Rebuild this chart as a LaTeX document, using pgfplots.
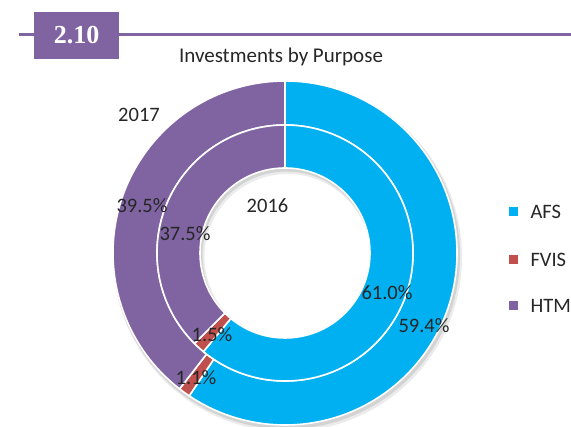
\documentclass[border=0pt]{standalone}
\usepackage{pgfplots}
\pgfplotsset{compat=1.18}
\usepackage{pgfplotstable}
\usepackage{fontspec}
\setmainfont{Carlito}
\newfontfamily\headfont{Liberation Serif}
\definecolor{cAFS}{HTML}{00B0F0}
\definecolor{cFVIS}{HTML}{C0504D}
\definecolor{cHTM}{HTML}{8064A2}
\definecolor{txt}{HTML}{262626}

\pgfplotstableread{
name val
AFS 59.4
FVIS 1.1
HTM 39.5
}\outerT
\pgfplotstableread{
name val
AFS 61.0
FVIS 1.5
HTM 37.5
}\innerT

\def\cx{285}
\def\cy{174}
\def\Rout{172}
\def\Rsep{128}
\def\Rhole{85}

\newcommand\sector[5]{%
  \fill[#1, draw=white, line width=1.6pt]
    (axis cs:{\cx+#5*cos(#2)},{\cy+#5*sin(#2)})
    arc[start angle=#2, end angle=#3, radius=#5pt]
    -- (axis cs:{\cx+#4*cos(#3)},{\cy+#4*sin(#3)})
    arc[start angle=#3, end angle=#2, radius=#4pt] -- cycle;}

\pgfplotstablegetelem{0}{val}\of\outerT \let\oA\pgfplotsretval%
\pgfplotstablegetelem{1}{val}\of\outerT \let\oF\pgfplotsretval%
\pgfplotstablegetelem{2}{val}\of\outerT \let\oH\pgfplotsretval%
\pgfplotstablegetelem{0}{val}\of\innerT \let\iA\pgfplotsretval%
\pgfplotstablegetelem{1}{val}\of\innerT \let\iF\pgfplotsretval%
\pgfplotstablegetelem{2}{val}\of\innerT \let\iH\pgfplotsretval%
\pgfmathsetmacro\oa{90-3.6*\oA}%
\pgfmathsetmacro\ob{\oa-3.6*\oF}%
\pgfmathsetmacro\oc{\ob-3.6*\oH}%
\pgfmathsetmacro\ia{90-3.6*\iA}%
\pgfmathsetmacro\ib{\ia-3.6*\iF}%
\pgfmathsetmacro\ic{\ib-3.6*\iH}%

\begin{document}
\begin{tikzpicture}
\begin{axis}[name=a, x=1pt, y=1pt, xmin=0, xmax=571, ymin=0, ymax=427,
  hide axis, scale only axis, clip=false]
  \coordinate (SW) at (axis cs:0,0);
  \coordinate (NE) at (axis cs:571,427);
  % header
  \draw[cHTM, line width=2.6pt] (axis cs:19,392.5) -- (axis cs:571,392.5);
  \fill[cHTM] (axis cs:34,368) rectangle (axis cs:119,415);
  \node[white, font=\headfont\bfseries\fontsize{26}{30}\selectfont] at (axis cs:76.5,391.5) {2.10};
  \node[txt, font=\fontsize{21}{25}\selectfont] at (axis cs:281,370) {Investments by Purpose};
  % shadow
  \fill[black, opacity=0.10, even odd rule] (axis cs:\cx+1.5,\cy-2.5) circle[radius=173.5pt] (axis cs:\cx+1.5,\cy-2.5) circle[radius=84pt];
  \fill[black, opacity=0.08, even odd rule] (axis cs:\cx+2.5,\cy-4) circle[radius=174.5pt] (axis cs:\cx+2.5,\cy-4) circle[radius=83pt];
  % outer ring 2017
  \sector{cAFS}{90}{\oa}{\Rsep}{\Rout}
  \sector{cFVIS}{\oa}{\ob}{\Rsep}{\Rout}
  \sector{cHTM}{\ob}{\oc}{\Rsep}{\Rout}
  % inner ring 2016
  \sector{cAFS}{90}{\ia}{\Rhole}{\Rsep}
  \sector{cFVIS}{\ia}{\ib}{\Rhole}{\Rsep}
  \sector{cHTM}{\ib}{\ic}{\Rhole}{\Rsep}
  % labels
  \begin{scope}[every node/.style={txt, font=\fontsize{20.5}{25}\selectfont}]
  \node at (axis cs:139,312) {2017};
  \node at (axis cs:267.5,221) {2016};
  \node at (axis cs:424,101) {59.4\%};
  \node at (axis cs:387,134.5) {61.0\%};
  \node at (axis cs:142,221) {39.5\%};
  \node at (axis cs:185,193) {37.5\%};
  \node at (axis cs:212,92) {1.5\%};
  \node at (axis cs:196,49.5) {1.1\%};
  \end{scope}
  % legend
  \fill[cAFS] (axis cs:509,211) rectangle (axis cs:518,220);
  \fill[cFVIS] (axis cs:509,163) rectangle (axis cs:518,172);
  \fill[cHTM] (axis cs:509,117) rectangle (axis cs:518,126);
  \begin{scope}[every node/.style={txt, anchor=west, font=\fontsize{20.5}{25}\selectfont}]
  \node at (axis cs:527,215.5) {AFS};
  \node at (axis cs:527,167.5) {FVIS};
  \node at (axis cs:527,121) {HTM};
  \end{scope}
\end{axis}
\pgfresetboundingbox
\path[use as bounding box] (SW) rectangle (NE);
\end{tikzpicture}
\end{document}
